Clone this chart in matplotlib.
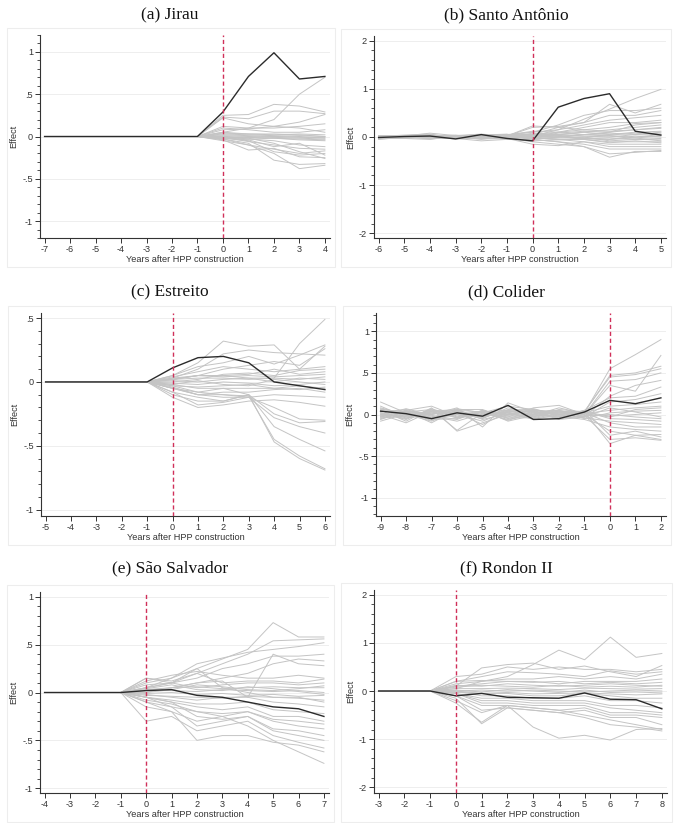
import matplotlib
matplotlib.use("Agg")
import matplotlib.pyplot as plt
from matplotlib.patches import Rectangle
from matplotlib.ticker import MultipleLocator, FuncFormatter

plt.rcParams["axes.unicode_minus"] = False
plt.rcParams["font.family"] = ["Liberation Sans", "DejaVu Sans"]

# ---------------- data ----------------
# (a) Jirau: years -7..4, placebo pre-period values are all 0
years_a = list(range(-7, 5))
treated_a = [0, 0, 0, 0, 0, 0, 0, 0.29, 0.71, 0.99, 0.68, 0.71]
placebo_a_post = [  # years 0..4
    [0.05, 0.10, 0.20, 0.50, 0.70],
    [0.25, 0.26, 0.38, 0.36, 0.29],
    [0.23, 0.21, 0.30, 0.30, 0.27],
    [0.22, 0.15, 0.12, 0.17, 0.26],
    [0.12, 0.10, 0.10, 0.12, 0.15],
    [0.10, 0.08, 0.05, 0.05, 0.08],
    [0.08, 0.09, 0.12, 0.10, 0.05],
    [0.05, 0.03, 0.03, 0.02, 0.00],
    [0.03, 0.02, 0.01, 0.00, -0.02],
    [0.02, 0.01, 0.00, -0.01, -0.01],
    [0.01, 0.00, -0.01, -0.02, -0.03],
    [0.00, -0.01, 0.00, 0.01, 0.00],
    [-0.01, -0.01, -0.02, -0.03, -0.04],
    [0.04, 0.03, 0.02, 0.03, 0.02],
    [-0.02, -0.03, -0.02, -0.04, -0.05],
    [-0.05, -0.10, -0.20, -0.38, -0.34],
    [-0.03, -0.08, -0.28, -0.33, -0.32],
    [-0.04, -0.16, -0.14, -0.24, -0.25],
    [-0.02, -0.05, -0.18, -0.22, -0.20],
    [-0.03, -0.10, -0.15, -0.20, -0.17],
    [-0.02, -0.04, -0.12, -0.08, -0.22],
    [-0.01, -0.06, -0.10, -0.14, -0.15],
    [0.00, -0.03, -0.05, -0.10, -0.12],
    [-0.01, -0.02, -0.08, -0.18, -0.26],
]

# (b) Santo Antonio: years -6..5
years_b = list(range(-6, 6))
treated_b = [-0.01, 0.01, 0.02, -0.04, 0.05, -0.03, -0.08, 0.62, 0.80, 0.90, 0.12, 0.04]
placebo_b = [
    [-0.03, 0.00, 0.02, -0.02, 0.01, 0.00, 0.02, 0.15, 0.37, 0.58, 0.80, 0.99],
    [0.02, 0.03, 0.05, 0.00, -0.03, 0.02, 0.20, 0.22, 0.30, 0.68, 0.50, 0.68],
    [-0.02, 0.01, -0.03, 0.03, 0.02, 0.04, 0.10, 0.25, 0.45, 0.55, 0.55, 0.60],
    [0.00, -0.02, 0.04, 0.01, -0.05, 0.03, 0.05, 0.20, 0.30, 0.45, 0.45, 0.55],
    [0.03, 0.02, -0.02, -0.01, 0.03, 0.05, 0.10, 0.15, 0.25, 0.35, 0.40, 0.45],
    [-0.05, 0.00, 0.03, 0.02, 0.00, -0.02, 0.00, 0.10, 0.20, 0.30, 0.30, 0.35],
    [0.01, 0.04, 0.06, -0.03, -0.02, 0.01, 0.05, 0.10, 0.15, 0.20, 0.28, 0.30],
    [0.00, -0.03, -0.05, 0.02, 0.05, 0.03, 0.00, 0.05, 0.10, 0.15, 0.20, 0.25],
    [0.02, 0.01, 0.00, 0.00, -0.04, -0.03, 0.00, 0.00, 0.05, 0.10, 0.15, 0.20],
    [-0.04, -0.02, 0.02, 0.03, 0.06, 0.02, 0.23, 0.20, 0.15, 0.12, 0.15, 0.18],
    [0.01, 0.02, -0.01, -0.02, 0.00, 0.05, 0.05, 0.05, 0.02, 0.00, 0.05, 0.10],
    [-0.02, 0.00, 0.03, 0.01, 0.02, -0.01, 0.08, 0.05, 0.10, 0.05, 0.10, 0.12],
    [0.03, -0.01, 0.01, -0.03, -0.08, -0.05, -0.05, 0.00, 0.05, 0.02, 0.00, 0.05],
    [0.00, 0.02, 0.08, 0.03, 0.02, 0.00, 0.03, 0.02, -0.02, -0.05, 0.02, 0.00],
    [-0.01, 0.01, -0.04, 0.00, 0.03, 0.02, -0.03, -0.02, 0.00, 0.03, -0.02, 0.02],
    [0.02, 0.00, 0.01, 0.04, -0.02, -0.04, 0.00, 0.03, 0.05, 0.08, 0.05, 0.08],
    [-0.03, -0.01, 0.02, -0.02, 0.01, 0.03, -0.02, -0.05, -0.03, -0.02, -0.05, -0.03],
    [0.01, 0.03, -0.02, 0.00, -0.01, 0.00, 0.02, 0.00, 0.00, -0.08, -0.05, -0.06],
    [0.00, 0.01, 0.00, -0.01, 0.04, 0.06, -0.05, -0.10, -0.20, -0.42, -0.30, -0.30],
    [-0.02, -0.03, 0.01, 0.02, -0.03, -0.02, -0.10, -0.15, -0.20, -0.35, -0.32, -0.28],
    [0.02, 0.00, -0.03, -0.02, 0.00, 0.01, -0.05, -0.10, -0.15, -0.25, -0.25, -0.25],
    [-0.01, 0.02, 0.04, 0.01, 0.02, -0.03, -0.15, -0.18, -0.10, -0.20, -0.20, -0.20],
    [0.03, 0.01, 0.00, -0.04, -0.01, 0.02, -0.02, -0.05, -0.10, -0.15, -0.15, -0.15],
    [0.00, -0.02, -0.01, 0.02, 0.03, 0.00, 0.00, -0.05, -0.05, -0.10, -0.10, -0.10],
    [-0.02, 0.00, 0.02, 0.00, -0.02, 0.02, 0.05, 0.02, -0.05, -0.12, -0.08, -0.12],
    [0.01, -0.01, 0.00, 0.03, 0.01, -0.01, 0.00, 0.08, 0.12, 0.10, 0.25, 0.30],
    [-0.03, 0.02, -0.02, 0.01, -0.01, 0.04, 0.12, 0.10, 0.05, 0.04, 0.08, 0.04],
    [0.02, -0.02, 0.01, -0.02, 0.02, -0.02, -0.08, -0.06, -0.04, -0.05, -0.02, -0.08],
]

# (c) Estreito: years -5..6, placebo pre-period values are all 0
years_c = list(range(-5, 7))
treated_c = [0, 0, 0, 0, 0, 0.11, 0.19, 0.20, 0.15, 0.00, -0.03, -0.06]
placebo_c_post = [  # years 0..6
    [0.05, 0.15, 0.32, 0.28, 0.29, 0.10, 0.28],
    [0.02, 0.05, 0.05, 0.03, 0.03, 0.30, 0.49],
    [0.03, 0.10, 0.22, 0.25, 0.23, 0.22, 0.21],
    [0.05, 0.12, 0.15, 0.20, 0.14, 0.21, 0.29],
    [0.02, 0.05, 0.10, 0.13, 0.16, 0.13, 0.26],
    [0.04, 0.08, 0.12, 0.10, 0.08, 0.10, 0.12],
    [0.02, 0.05, 0.05, 0.06, 0.10, 0.06, 0.08],
    [0.02, 0.03, 0.03, 0.02, 0.03, 0.02, 0.04],
    [0.01, 0.00, 0.02, 0.03, 0.00, 0.03, 0.02],
    [-0.01, -0.02, 0.00, -0.01, -0.03, -0.02, 0.00],
    [0.03, 0.05, 0.04, 0.05, 0.04, 0.05, 0.06],
    [-0.02, 0.01, -0.02, -0.03, 0.02, 0.00, -0.02],
    [0.00, 0.02, 0.06, 0.07, 0.05, 0.09, 0.10],
    [-0.03, -0.04, -0.03, -0.02, -0.05, -0.06, -0.04],
    [-0.05, -0.08, -0.05, -0.10, -0.47, -0.60, -0.69],
    [-0.03, -0.08, -0.10, -0.11, -0.45, -0.58, -0.68],
    [-0.08, -0.12, -0.15, -0.10, -0.35, -0.45, -0.54],
    [-0.05, -0.10, -0.12, -0.12, -0.28, -0.35, -0.40],
    [-0.10, -0.15, -0.15, -0.10, -0.25, -0.32, -0.31],
    [-0.05, -0.10, -0.10, -0.12, -0.20, -0.29, -0.30],
    [-0.12, -0.20, -0.18, -0.15, -0.14, -0.16, -0.19],
    [-0.08, -0.18, -0.16, -0.12, -0.10, -0.11, -0.12],
    [-0.04, -0.10, -0.08, -0.08, -0.06, -0.05, -0.08],
    [-0.02, -0.05, -0.05, -0.05, -0.05, -0.03, -0.05],
]

# (d) Colider: years -9..2
years_d = list(range(-9, 3))
treated_d = [0.04, 0.01, -0.05, 0.02, -0.02, 0.11, -0.06, -0.05, 0.03, 0.17, 0.13, 0.20]
placebo_d = [
    [0.15, 0.02, -0.05, 0.03, -0.02, 0.04, 0.00, -0.03, 0.02, 0.55, 0.72, 0.90],
    [0.05, -0.08, 0.08, -0.20, -0.10, 0.00, 0.05, 0.02, 0.00, 0.35, 0.28, 0.71],
    [-0.02, 0.05, 0.10, -0.02, 0.02, 0.10, 0.06, -0.02, 0.03, 0.47, 0.50, 0.58],
    [0.02, -0.04, 0.00, 0.08, -0.15, 0.14, 0.03, 0.00, 0.04, 0.45, 0.48, 0.55],
    [-0.05, 0.03, 0.06, -0.19, 0.02, -0.03, 0.08, 0.11, 0.00, 0.40, 0.42, 0.50],
    [0.08, 0.00, -0.08, 0.05, 0.03, 0.05, -0.02, 0.03, -0.02, 0.22, 0.35, 0.41],
    [0.00, -0.10, 0.04, 0.02, -0.05, 0.08, 0.02, -0.04, 0.05, 0.20, 0.22, 0.33],
    [-0.06, 0.04, -0.10, 0.06, 0.06, -0.05, 0.04, 0.05, -0.03, 0.15, 0.18, 0.25],
    [0.04, 0.02, 0.03, -0.04, 0.00, 0.02, -0.05, 0.02, 0.02, 0.10, 0.12, 0.15],
    [0.10, -0.03, 0.02, 0.00, -0.08, 0.04, 0.07, -0.01, 0.01, 0.05, 0.08, 0.10],
    [-0.03, 0.05, -0.04, 0.07, 0.02, -0.06, 0.01, 0.04, -0.05, 0.02, 0.04, 0.05],
    [0.02, -0.06, 0.07, -0.03, 0.04, 0.00, -0.03, 0.06, 0.03, -0.02, 0.00, 0.02],
    [-0.08, 0.01, 0.00, 0.04, -0.04, 0.06, 0.05, -0.05, -0.02, 0.00, -0.03, -0.05],
    [0.06, 0.03, -0.06, -0.05, 0.05, -0.02, -0.02, 0.03, 0.04, -0.05, -0.06, -0.08],
    [0.00, -0.02, 0.05, 0.02, -0.12, 0.03, 0.03, 0.00, -0.04, -0.08, -0.10, -0.12],
    [0.03, 0.06, -0.02, -0.08, 0.01, -0.04, -0.04, 0.04, 0.02, -0.10, -0.15, -0.15],
    [-0.04, -0.02, 0.03, 0.05, -0.03, 0.05, 0.00, -0.02, -0.06, -0.15, -0.18, -0.20],
    [0.05, 0.00, -0.03, 0.00, 0.04, -0.01, 0.06, 0.01, 0.00, -0.20, -0.25, -0.24],
    [-0.02, 0.04, 0.01, 0.03, -0.02, 0.02, -0.03, -0.03, 0.05, -0.25, -0.20, -0.27],
    [0.01, -0.05, 0.06, -0.04, 0.03, -0.07, 0.02, 0.05, -0.01, -0.30, -0.28, -0.31],
    [-0.03, 0.02, -0.07, 0.01, 0.00, 0.03, -0.06, 0.00, 0.03, -0.35, -0.25, -0.30],
    [0.07, -0.01, 0.04, 0.06, -0.06, 0.01, 0.04, -0.06, -0.03, 0.08, 0.03, -0.03],
    [-0.01, 0.07, -0.01, -0.06, 0.05, -0.08, -0.01, 0.08, 0.01, -0.03, 0.06, 0.08],
]

# (e) Sao Salvador: years -4..7, placebo pre-period values are all 0
years_e = list(range(-4, 8))
treated_e = [0, 0, 0, 0, 0.02, 0.03, -0.03, -0.05, -0.10, -0.15, -0.17, -0.25]
placebo_e_post = [  # years 0..7
    [0.05, 0.15, 0.25, 0.35, 0.45, 0.73, 0.58, 0.58],
    [0.05, 0.10, 0.20, 0.30, 0.40, 0.54, 0.55, 0.56],
    [0.10, 0.15, 0.30, 0.36, 0.42, 0.45, 0.48, 0.52],
    [0.05, 0.10, 0.15, 0.25, 0.30, 0.38, 0.38, 0.40],
    [0.00, 0.05, 0.10, 0.15, 0.20, 0.30, 0.35, 0.33],
    [0.02, 0.05, 0.10, 0.12, -0.05, 0.40, 0.30, 0.28],
    [0.12, 0.18, 0.22, 0.18, 0.15, 0.15, 0.18, 0.15],
    [0.15, 0.12, 0.20, 0.10, 0.12, 0.12, 0.10, 0.14],
    [0.08, 0.10, 0.05, 0.08, 0.10, 0.10, 0.08, 0.10],
    [0.03, 0.05, 0.06, 0.04, 0.05, 0.06, 0.05, 0.05],
    [0.02, 0.02, 0.01, 0.03, 0.02, 0.01, 0.02, 0.00],
    [-0.01, 0.00, -0.02, -0.01, -0.03, -0.02, -0.04, -0.03],
    [0.04, 0.08, 0.03, 0.02, 0.06, 0.04, 0.01, -0.02],
    [-0.03, -0.04, -0.05, -0.06, -0.04, -0.05, -0.06, -0.08],
    [0.00, 0.03, 0.08, 0.06, 0.03, 0.02, 0.04, 0.07],
    [-0.05, -0.15, -0.20, -0.25, -0.35, -0.50, -0.62, -0.74],
    [-0.10, -0.20, -0.50, -0.45, -0.45, -0.52, -0.55, -0.62],
    [-0.30, -0.25, -0.40, -0.35, -0.30, -0.45, -0.52, -0.58],
    [-0.10, -0.15, -0.35, -0.30, -0.25, -0.40, -0.45, -0.50],
    [-0.05, -0.10, -0.25, -0.28, -0.25, -0.38, -0.40, -0.45],
    [-0.15, -0.20, -0.30, -0.25, -0.20, -0.30, -0.35, -0.38],
    [-0.08, -0.12, -0.20, -0.22, -0.20, -0.28, -0.30, -0.33],
    [-0.05, -0.10, -0.15, -0.18, -0.15, -0.25, -0.25, -0.30],
    [-0.05, -0.08, -0.12, -0.12, -0.10, -0.18, -0.20, -0.22],
    [0.15, 0.10, 0.25, 0.05, 0.00, -0.05, -0.05, -0.10],
    [-0.02, -0.05, -0.08, -0.05, -0.05, -0.10, -0.12, -0.15],
]

# (f) Rondon II: years -3..8, placebo pre-period values are all 0
years_f = list(range(-3, 9))
treated_f = [0, 0, 0, -0.10, -0.05, -0.13, -0.14, -0.15, -0.04, -0.17, -0.18, -0.37]
placebo_f_post = [  # years 0..8
    [0.05, 0.20, 0.30, 0.55, 0.85, 0.65, 1.12, 0.70, 0.78],
    [0.10, 0.48, 0.55, 0.58, 0.45, 0.52, 0.40, 0.30, 0.53],
    [0.30, 0.35, 0.50, 0.45, 0.50, 0.45, 0.45, 0.40, 0.45],
    [0.20, 0.30, 0.40, 0.38, 0.35, 0.30, 0.42, 0.35, 0.40],
    [0.15, 0.20, 0.25, 0.25, 0.30, 0.25, 0.30, 0.25, 0.35],
    [0.10, 0.15, 0.20, 0.20, 0.15, 0.20, 0.20, 0.20, 0.25],
    [0.20, 0.22, 0.20, 0.18, 0.20, 0.15, 0.18, 0.15, 0.18],
    [0.12, 0.10, 0.15, 0.12, 0.10, 0.12, 0.15, 0.12, 0.10],
    [0.08, 0.12, 0.10, 0.08, 0.12, 0.08, 0.10, 0.08, 0.12],
    [0.05, 0.05, 0.06, 0.05, 0.03, 0.06, 0.05, 0.04, 0.05],
    [0.00, 0.02, 0.00, 0.02, 0.00, -0.02, 0.00, 0.02, 0.00],
    [0.02, -0.02, 0.03, 0.00, -0.03, 0.02, -0.03, -0.02, -0.04],
    [-0.03, -0.05, -0.03, -0.06, -0.05, -0.04, -0.06, -0.08, -0.06],
    [-0.20, -0.45, -0.30, -0.75, -0.98, -0.92, -1.02, -0.80, -0.78],
    [-0.15, -0.68, -0.35, -0.40, -0.45, -0.55, -0.70, -0.75, -0.83],
    [-0.25, -0.65, -0.30, -0.35, -0.40, -0.50, -0.60, -0.70, -0.80],
    [-0.10, -0.40, -0.35, -0.40, -0.45, -0.40, -0.55, -0.55, -0.70],
    [-0.10, -0.30, -0.30, -0.35, -0.40, -0.35, -0.50, -0.50, -0.55],
    [-0.05, -0.25, -0.25, -0.30, -0.30, -0.30, -0.45, -0.45, -0.50],
    [-0.05, -0.20, -0.20, -0.25, -0.25, -0.25, -0.35, -0.40, -0.45],
    [-0.05, -0.15, -0.15, -0.20, -0.20, -0.20, -0.30, -0.30, -0.35],
    [0.00, -0.10, -0.10, -0.15, -0.15, -0.10, -0.20, -0.20, -0.25],
    [0.00, -0.05, -0.05, -0.10, -0.10, -0.05, -0.10, -0.15, -0.15],
]


def with_zero_pre(years, post_lines):
    n_pre = sum(1 for y in years if y < 0)
    return [[0.0] * n_pre + list(p) for p in post_lines]


# title, years, treated, placebos, ylim, major step, axes box (px: left, top, right, bottom), title centre (px)
panels = [
    ("(a) Jirau", years_a, treated_a, with_zero_pre(years_a, placebo_a_post), (-1.2, 1.2), 0.5, (40, 35, 330, 238), (170, 15)),
    ("(b) Santo Antônio", years_b, treated_b, placebo_b, (-2.1, 2.1), 1.0, (374, 36, 666, 238), (506, 15)),
    ("(c) Estreito", years_c, treated_c, with_zero_pre(years_c, placebo_c_post), (-1.05, 0.54), 0.5, (41, 313, 330, 516), (170, 292)),
    ("(d) Colider", years_d, treated_d, placebo_d, (-1.22, 1.22), 0.5, (376, 313, 666, 516), (506, 292)),
    ("(e) São Salvador", years_e, treated_e, with_zero_pre(years_e, placebo_e_post), (-1.05, 1.05), 0.5, (40, 592, 329, 793), (170, 568)),
    ("(f) Rondon II", years_f, treated_f, with_zero_pre(years_f, placebo_f_post), (-2.12, 2.1), 1.0, (374, 590, 667, 793), (506, 568)),
]

W, H = 678, 823
fig = plt.figure(figsize=(W / 100, H / 100), dpi=100)
fig.patch.set_facecolor("white")


def stata_fmt(v, pos):
    s = f"{v:g}"
    if s.startswith("0.") and v != 0:
        s = s[1:]
    elif s.startswith("-0."):
        s = "-" + s[2:]
    return s


for title, years, treated, placebos, ylim, major, box, tpos in panels:
    left, top, right, bottom = box
    # faint graph-region frame under the title
    fl, ft, fr, fb = left - 33, top - 7, right + 5, bottom + 29
    fig.patches.append(Rectangle((fl / W, 1 - fb / H), (fr - fl) / W, (fb - ft) / H,
                                 transform=fig.transFigure, fill=False,
                                 edgecolor="#ededed", lw=0.8, zorder=0))
    ax = fig.add_axes([left / W, 1 - bottom / H, (right - left) / W, (bottom - top) / H])
    for p in placebos:
        ax.plot(years, p, color="#c4c4c4", lw=0.7, zorder=2)
    ax.plot(years, treated, color="#2b2b2b", lw=1.0, zorder=4)
    ax.axvline(0, color="#d0305a", lw=1.0, ls=(0, (3, 2)), zorder=5)

    ax.set_xlim(years[0] - 0.18, years[-1] + 0.2)
    ax.set_ylim(*ylim)
    ax.set_xticks(years)
    ax.yaxis.set_major_locator(MultipleLocator(major))
    ax.yaxis.set_minor_locator(MultipleLocator(major / 5))
    ax.yaxis.set_major_formatter(FuncFormatter(stata_fmt))
    ax.grid(axis="y", which="major", color="#eeeeee", lw=0.7, zorder=0)
    ax.set_axisbelow(True)

    for side in ("top", "right"):
        ax.spines[side].set_visible(False)
    for side in ("left", "bottom"):
        ax.spines[side].set_color("#333333")
        ax.spines[side].set_linewidth(0.8)
    ax.tick_params(axis="both", which="major", labelsize=6.6, colors="#333333",
                   length=3.5, width=0.7, pad=1.5)
    ax.tick_params(axis="y", which="minor", length=2, width=0.6, colors="#333333")
    ax.tick_params(axis="x", which="minor", bottom=False)

    ax.set_xlabel("Years after HPP construction", fontsize=6.6, color="#333333", labelpad=0.5)
    ax.set_ylabel("Effect", fontsize=6.6, color="#333333", labelpad=3)

    fig.text(tpos[0] / W, 1 - tpos[1] / H, title, ha="center", va="center",
             fontsize=12.5, family="Liberation Serif", color="#111111")

fig.savefig("out.png", dpi=100, facecolor="white")
